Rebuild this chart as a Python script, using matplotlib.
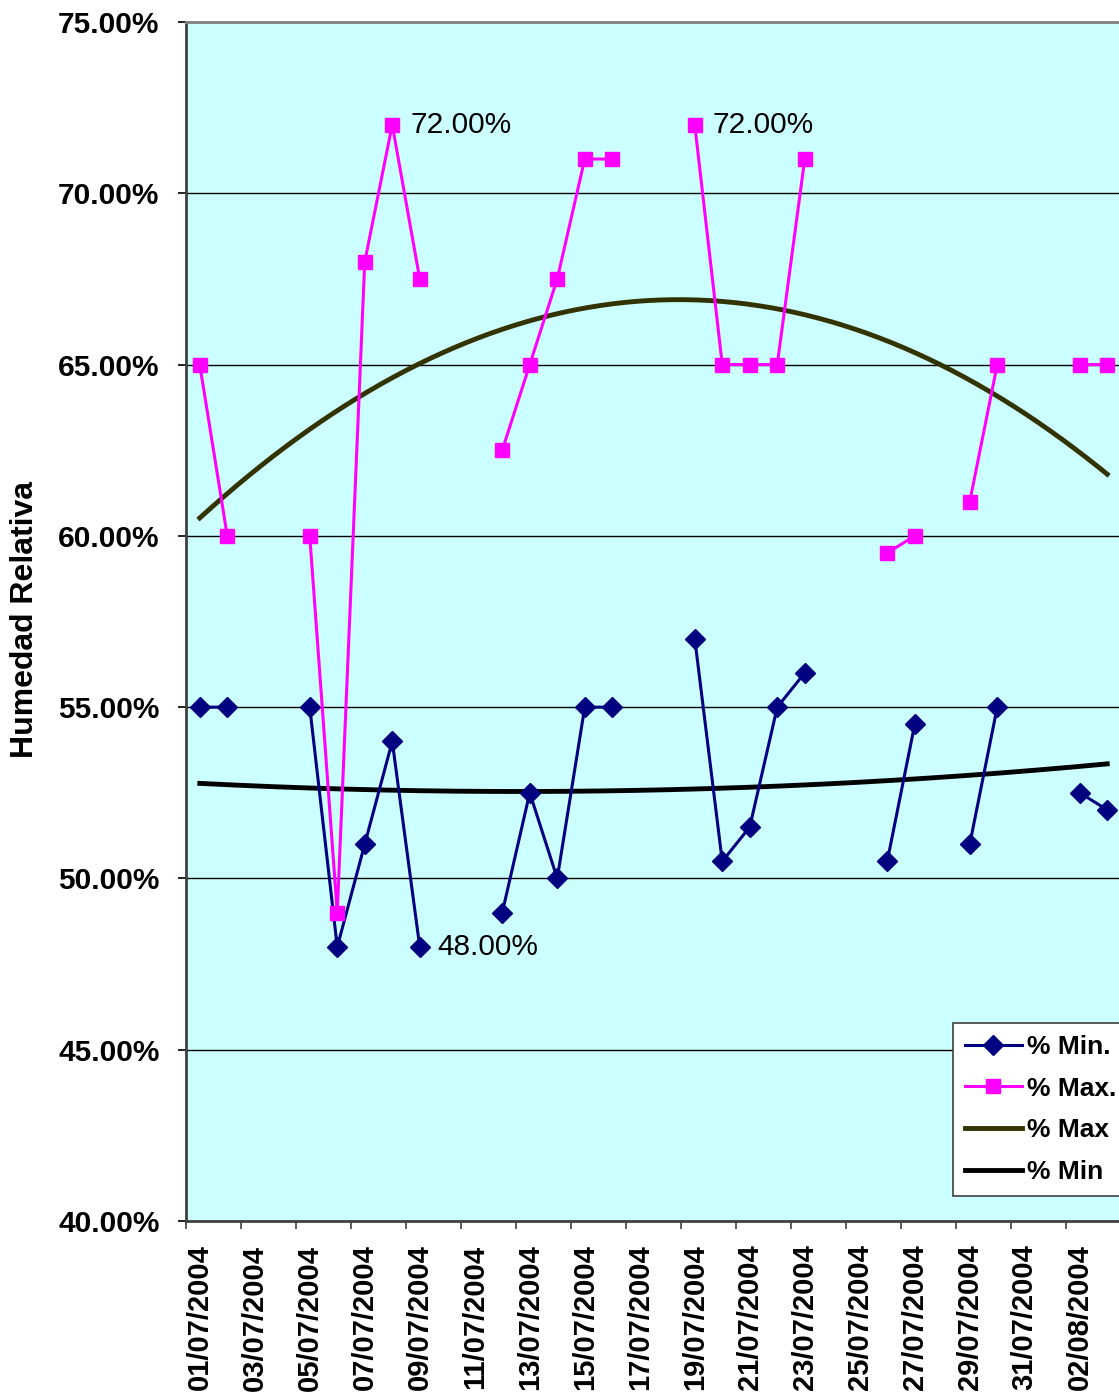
import numpy as np
import matplotlib
matplotlib.use("Agg")
import matplotlib.pyplot as plt
from matplotlib.ticker import FuncFormatter, FixedLocator
from matplotlib.lines import Line2D

plt.rcParams['font.family'] = ['Liberation Sans', 'DejaVu Sans']

# one category per day, 01/07/2004 .. 03/08/2004
dates = ['01/07/2004', '02/07/2004', '03/07/2004', '04/07/2004', '05/07/2004',
         '06/07/2004', '07/07/2004', '08/07/2004', '09/07/2004', '10/07/2004',
         '11/07/2004', '12/07/2004', '13/07/2004', '14/07/2004', '15/07/2004',
         '16/07/2004', '17/07/2004', '18/07/2004', '19/07/2004', '20/07/2004',
         '21/07/2004', '22/07/2004', '23/07/2004', '24/07/2004', '25/07/2004',
         '26/07/2004', '27/07/2004', '28/07/2004', '29/07/2004', '30/07/2004',
         '31/07/2004', '01/08/2004', '02/08/2004', '03/08/2004']

nan = np.nan
# relative humidity, % (nan = no reading that day)
hum_min = [55.0, 55.0, nan, nan, 55.0, 48.0, 51.0, 54.0, 48.0, nan,
           nan, 49.0, 52.5, 50.0, 55.0, 55.0, nan, nan, 57.0, 50.5,
           51.5, 55.0, 56.0, nan, nan, 50.5, 54.5, nan, 51.0, 55.0,
           nan, nan, 52.5, 52.0]
hum_max = [65.0, 60.0, nan, nan, 60.0, 49.0, 68.0, 72.0, 67.5, nan,
           nan, 62.5, 65.0, 67.5, 71.0, 71.0, nan, nan, 72.0, 65.0,
           65.0, 65.0, 71.0, nan, nan, 59.5, 60.0, nan, 61.0, 65.0,
           nan, nan, 65.0, 65.0]

x = np.arange(1, len(dates) + 1)
y_min = np.array(hum_min)
y_max = np.array(hum_max)


def poly_trend(xv, yv):
    # 2nd order polynomial trend over the days that have data
    ok = ~np.isnan(yv)
    coef = np.polyfit(xv[ok], yv[ok], 2)
    xs = np.linspace(xv[ok][0], xv[ok][-1], 300)
    return xs, np.polyval(coef, xs)


fig = plt.figure(figsize=(11.19, 14), dpi=100)
ax = fig.add_axes([186 / 1119, 179 / 1400, 935 / 1119, 1199 / 1400])
ax.set_facecolor('#CCFFFF')

ax.plot(x, y_min, color='#000080', lw=2.2, marker='D', ms=10, zorder=4)
ax.plot(x, y_max, color='#FF00FF', lw=2.2, marker='s', ms=10, zorder=4)

tx, ty = poly_trend(x, y_max)
ax.plot(tx, ty, color='#333300', lw=3.5, zorder=3)
tx, ty = poly_trend(x, y_min)
ax.plot(tx, ty, color='black', lw=3.5, zorder=3)

# value labels on the extremes
for i, yv in [(7, y_max[7]), (18, y_max[18]), (8, y_min[8])]:
    ax.annotate(f'{yv:.2f}%', (x[i], yv), xytext=(13, 0), textcoords='offset points',
                va='center', ha='left', fontsize=21.5, zorder=5)

ax.set_xlim(0.5, len(dates) + 0.5)
ax.set_ylim(40, 75)
ax.set_yticks(np.arange(40, 75.1, 5))
ax.yaxis.set_major_formatter(FuncFormatter(lambda v, p: f'{v:.2f}%'))
ax.yaxis.grid(True, color='black', lw=1)
ax.set_axisbelow(True)

ax.xaxis.set_major_locator(FixedLocator(np.arange(0.5, len(dates) + 1, 2)))
ax.xaxis.set_minor_locator(FixedLocator(x[::2]))
ax.set_xticklabels([], minor=False)
ax.set_xticklabels(dates[::2], minor=True, rotation=90, fontweight='bold', fontsize=21, va='top')
ax.tick_params(axis='x', which='major', length=6, width=1.2, color='#404040')
ax.tick_params(axis='x', which='minor', length=0, pad=17)
ax.tick_params(axis='y', length=6, width=1.2, color='black', pad=13, labelsize=21.5)
for lab in ax.get_yticklabels():
    lab.set_fontweight('bold')

ax.spines['left'].set_color('#404040')
ax.spines['left'].set_linewidth(2)
ax.spines['bottom'].set_color('#404040')
ax.spines['bottom'].set_linewidth(2)
ax.spines['top'].set_color('#808080')
ax.spines['top'].set_linewidth(2)
ax.spines['right'].set_visible(False)

fig.text(25 / 1119, 1 - 620 / 1400, 'Humedad Relativa', rotation=90, ha='center', va='center',
         fontsize=23, fontweight='bold')

handles = [
    Line2D([], [], color='#000080', lw=2.2, marker='D', ms=10),
    Line2D([], [], color='#FF00FF', lw=2.2, marker='s', ms=10),
    Line2D([], [], color='#333300', lw=3.5),
    Line2D([], [], color='black', lw=3.5),
]
leg = ax.legend(handles, ['% Min.', '% Max.', '% Max', '% Min'], loc='upper left',
                bbox_to_anchor=(0.8203, 0.1651), borderaxespad=0, fancybox=False,
                framealpha=1, edgecolor='#404040', prop={'weight': 'bold', 'size': 19},
                handlelength=2.15, handletextpad=0.2, labelspacing=0.67, borderpad=0.45)
leg.get_frame().set_linewidth(1.2)

fig.savefig('out.png', dpi=100)
